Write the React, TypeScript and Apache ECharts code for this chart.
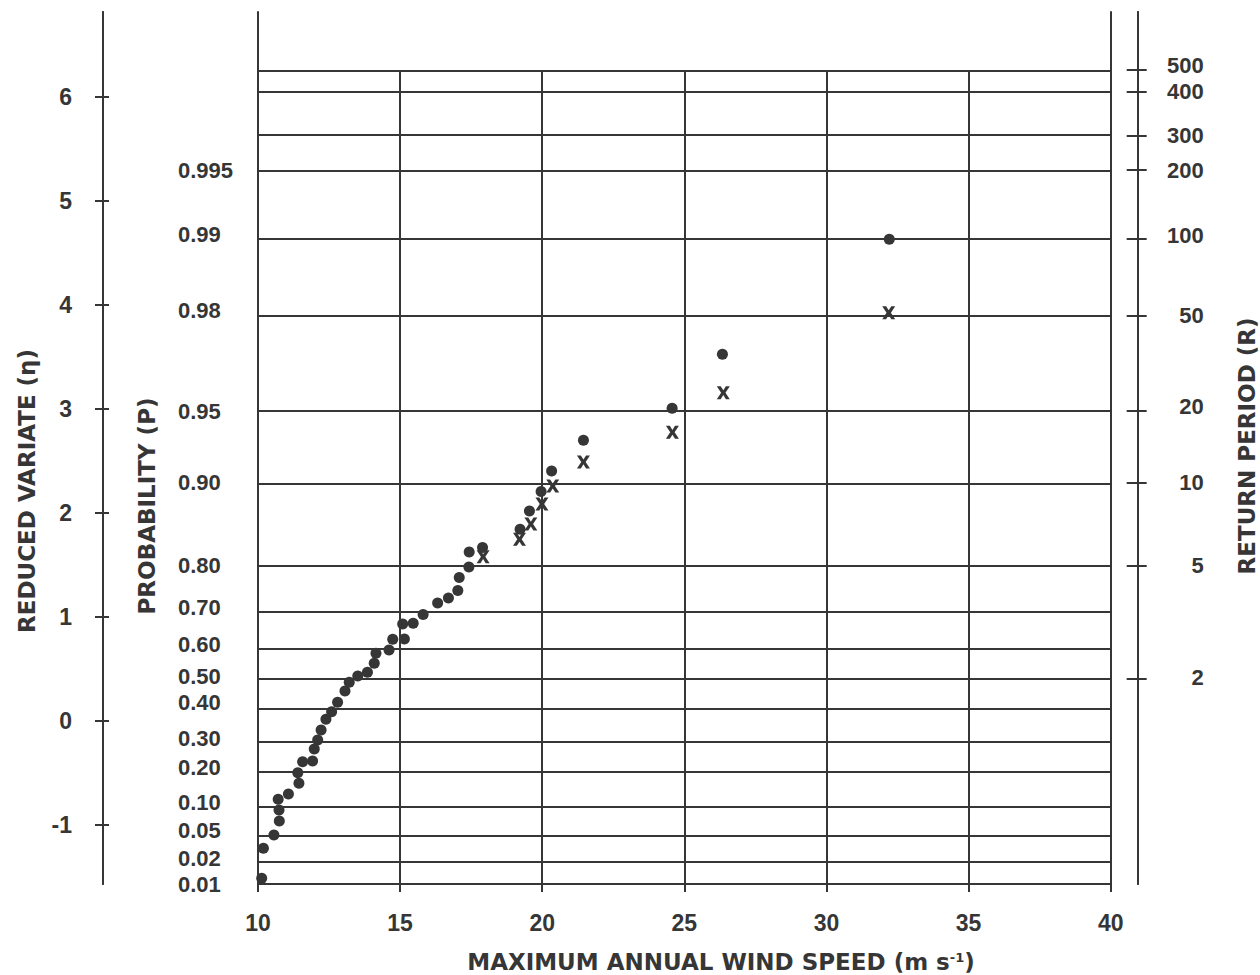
import React, { useEffect, useRef } from 'react';
import * as echarts from 'echarts';

// ---- data ----
const speedMin = 10;
const speedMax = 40;
const speedStep = 5;
const verticalGridSpeeds = [15, 20, 25, 30, 35];

const variateTicks = [-1, 0, 1, 2, 3, 4, 5, 6];

const probLabels = ['0.995', '0.99', '0.98', '0.95', '0.90', '0.80', '0.70', '0.60', '0.50', '0.40', '0.30', '0.20', '0.10', '0.05', '0.02', '0.01'];
const probEta = [5.293, 4.63, 3.894, 2.976, 2.284, 1.488, 1.053, 0.688, 0.399, 0.111, -0.197, -0.49, -0.827, -1.115, -1.356, -1.572];

const returnLabels = ['500', '400', '300', '200', '100', '50', '20', '10', '5', '2'];
const returnEta = [6.255, 6.046, 5.625, 5.293, 4.63, 3.894, 2.976, 2.284, 1.488, 0.399];

const etaMin = -1.572;
const etaMax = 6.8125;

const dotSpeed = [10.13, 10.19, 10.56, 10.75, 10.74, 10.71, 11.07, 11.44, 11.4, 11.57, 11.92, 11.98, 12.1, 12.22, 12.39, 12.59, 12.8, 13.06, 13.21, 13.51, 13.85, 14.09, 14.15, 14.61, 14.74, 15.15, 15.09, 15.46, 15.81, 16.32, 16.7, 17.03, 17.08, 17.42, 17.43, 17.9, 19.22, 19.55, 19.96, 20.33, 21.45, 24.57, 26.34, 32.21];
const dotEta = [-1.517, -1.229, -1.101, -0.966, -0.861, -0.758, -0.707, -0.604, -0.502, -0.396, -0.389, -0.274, -0.188, -0.091, 0.012, 0.085, 0.175, 0.284, 0.367, 0.428, 0.463, 0.55, 0.646, 0.678, 0.781, 0.784, 0.928, 0.935, 1.019, 1.13, 1.178, 1.25, 1.375, 1.476, 1.62, 1.663, 1.838, 2.014, 2.202, 2.399, 2.694, 3.002, 3.521, 4.627];

const crossSpeed = [17.92, 19.2, 19.6, 19.99, 20.37, 21.45, 24.58, 26.37, 32.19];
const crossEta = [1.575, 1.742, 1.889, 2.082, 2.255, 2.486, 2.771, 3.152, 3.921];

// ---- styling ----
const INK = '#363636';
const NUM_FONT = '"Liberation Sans", Arial, sans-serif';
const TITLE_FONT = '"DejaVu Sans", sans-serif';
const NUM_SIZE = 22;
const X_SYMBOL = 'path://M0,0 L3.9,0 L6.5,4.1 L9.1,0 L13,0 L8.7,6.5 L13,13 L9.1,13 L6.5,8.9 L3.9,13 L0,13 L4.3,6.5 Z';
// how many pixels some labels sit above their line in the reference
const labelRaise: Record<string, number> = {
  '0.99': 4, '0.98': 5, '0.70': 3, '0.60': 4, '0.50': 3, '0.40': 6, '0.30': 2, '0.20': 4, '0.10': 4, '0.05': 6, '0.02': 3,
  '500': 4, '100': 3, '20': 5, '2': 2,
};

const labelFor = (values: number[], labels: string[]) => (v: number) => {
  const i = values.findIndex((e) => Math.abs(e - v) < 1e-6);
  if (i < 0) return '';
  const t = labels[i];
  const r = labelRaise[t] || 0;
  return `{r${r}|${t}}`;
};

const richNum: Record<string, any> = {};
[0, 1, 2, 3, 4, 5, 6].forEach((r) => {
  richNum[`r${r}`] = { color: INK, fontFamily: NUM_FONT, fontWeight: 'bold', fontSize: NUM_SIZE, padding: [0, 0, 2 * r, 0] };
});

const numLabel = {
  color: INK,
  fontFamily: NUM_FONT,
  fontWeight: 'bold',
  fontSize: NUM_SIZE,
  hideOverlap: false,
  showMinLabel: true,
  showMaxLabel: true,
};
const axisLine = { show: true, onZero: false, lineStyle: { color: INK, width: 2 } };
const noLine = { show: false, onZero: false };
const tickLine = { color: INK, width: 2 };

const everyOther = (arr: number[], parity: number) => arr.filter((_, i) => i % 2 === parity);

export default function App() {
  const ref = useRef<HTMLDivElement>(null);

  useEffect(() => {
    if (!ref.current) return;
    const chart = echarts.init(ref.current, undefined, { renderer: 'svg' });

    const hLines = Array.from(new Set([...returnEta, ...probEta.filter((v) => v > etaMin)]));
    const baseY = { type: 'value', min: etaMin, max: etaMax, splitLine: { show: false } };

    // probability labels, split into two alternating axes so neighbours never hide each other
    const probAxes = [0, 1].map((p) => ({
      ...baseY,
      position: 'left',
      offset: 0,
      axisLine: p === 0 ? axisLine : noLine,
      axisTick: { show: false },
      axisLabel: {
        ...numLabel,
        customValues: everyOther(probEta, p),
        formatter: labelFor(probEta, probLabels),
        rich: richNum,
        align: 'left',
        margin: 80,
      },
    }));

    const returnAxes = [0, 1].map((p) => ({
      ...baseY,
      position: 'right',
      offset: 27,
      axisLine: p === 0 ? axisLine : noLine,
      axisTick: { show: true, customValues: everyOther(returnEta, p), length: 9, lineStyle: tickLine },
      axisLabel: {
        ...numLabel,
        customValues: everyOther(returnEta, p),
        formatter: labelFor(returnEta, returnLabels),
        rich: richNum,
        align: 'right',
        margin: 66,
      },
    }));

    const option: any = {
      animation: false,
      backgroundColor: '#ffffff',
      grid: { left: 258, right: 149.3, top: 12, bottom: 91, containLabel: false, outerBoundsMode: 'none' },
      xAxis: {
        type: 'value',
        min: speedMin,
        max: speedMax,
        interval: speedStep,
        axisLine,
        axisTick: { show: true, length: 8, lineStyle: tickLine },
        axisLabel: { ...numLabel, fontSize: 23, margin: 27 },
        splitLine: { show: false },
      },
      yAxis: [
        ...probAxes,
        {
          ...baseY,
          position: 'right',
          offset: 0,
          axisLine,
          axisTick: { show: false },
          axisLabel: { show: false },
        },
        ...returnAxes,
        {
          ...baseY,
          position: 'right',
          offset: 27,
          axisLine,
          axisTick: { show: true, inside: true, customValues: returnEta, length: 11, lineStyle: tickLine },
          axisLabel: { show: false },
        },
        {
          ...baseY,
          position: 'left',
          offset: 155,
          axisLine,
          axisTick: { show: true, customValues: variateTicks, length: 8, lineStyle: tickLine },
          axisLabel: { ...numLabel, fontSize: 23, customValues: variateTicks, formatter: (v: number) => String(v), margin: 31 },
        },
        {
          ...baseY,
          position: 'left',
          offset: 155,
          axisLine,
          axisTick: { show: true, inside: true, customValues: variateTicks, length: 6, lineStyle: tickLine },
          axisLabel: { show: false },
        },
      ],
      series: [
        {
          type: 'line',
          data: [],
          z: 1,
          silent: true,
          markLine: {
            silent: true,
            symbol: ['none', 'none'],
            label: { show: false },
            emphasis: { disabled: true },
            lineStyle: { color: INK, width: 2, type: 'solid' },
            data: [
              ...hLines.map((v) => ({ yAxis: v })),
              ...verticalGridSpeeds.map((s) => [{ coord: [s, etaMin] }, { coord: [s, returnEta[0]] }]),
            ],
          },
        },
        {
          type: 'scatter',
          name: 'dots',
          z: 3,
          symbol: 'circle',
          symbolSize: 11,
          itemStyle: { color: INK, opacity: 1 },
          data: dotSpeed.map((s, i) => [s, dotEta[i]]),
        },
        {
          type: 'scatter',
          name: 'crosses',
          z: 3,
          symbol: X_SYMBOL,
          symbolSize: [13, 13],
          itemStyle: { color: INK, opacity: 1 },
          data: crossSpeed.map((s, i) => [s, crossEta[i]]),
        },
      ],
      graphic: [
        {
          type: 'text',
          x: 27,
          y: 491,
          rotation: Math.PI / 2,
          style: { text: 'REDUCED VARIATE (η)', fill: INK, font: `bold 23px ${TITLE_FONT}`, align: 'center', verticalAlign: 'middle', textAlign: 'center', textVerticalAlign: 'middle' },
        },
        {
          type: 'text',
          x: 147,
          y: 506,
          rotation: Math.PI / 2,
          style: { text: 'PROBABILITY (P)', fill: INK, font: `bold 23px ${TITLE_FONT}`, align: 'center', verticalAlign: 'middle', textAlign: 'center', textVerticalAlign: 'middle' },
        },
        {
          type: 'text',
          x: 1247,
          y: 446,
          rotation: Math.PI / 2,
          style: { text: 'RETURN PERIOD (R)', fill: INK, font: `bold 23px ${TITLE_FONT}`, align: 'center', verticalAlign: 'middle', textAlign: 'center', textVerticalAlign: 'middle' },
        },
        {
          type: 'text',
          x: 721,
          y: 962,
          style: {
            text: '{a|MAXIMUM ANNUAL WIND SPEED (m s}{b|-1}{a|)}',
            align: 'center',
            verticalAlign: 'middle',
            textAlign: 'center',
            textVerticalAlign: 'middle',
            rich: {
              a: { fill: INK, color: INK, fontSize: 23, fontWeight: 'bold', fontFamily: TITLE_FONT },
              b: { fill: INK, color: INK, fontSize: 13, fontWeight: 'bold', fontFamily: TITLE_FONT, verticalAlign: 'top' },
            },
          },
        },
      ],
    };

    chart.setOption(option);
    return () => chart.dispose();
  }, []);

  return <div ref={ref} style={{ position: 'fixed', left: 0, top: 0, width: 1260, height: 975, background: '#fff' }} />;
}
